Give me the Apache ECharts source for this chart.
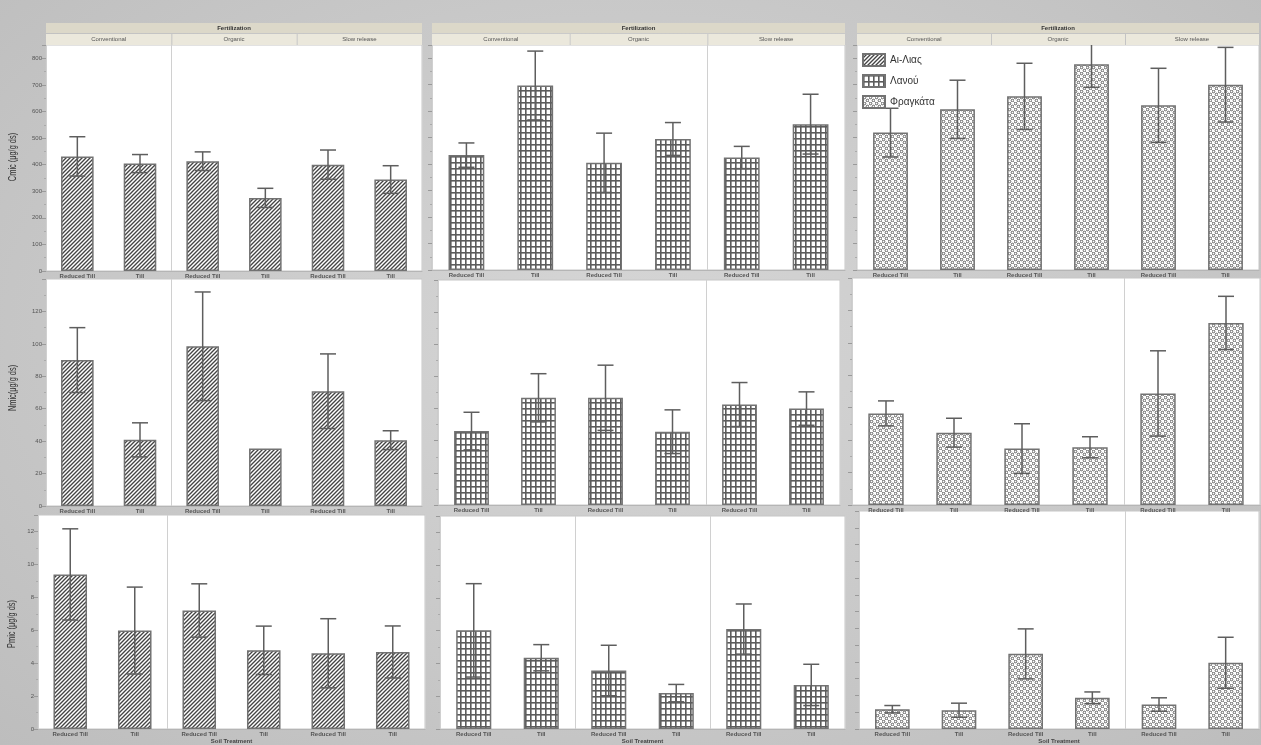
<!DOCTYPE html>
<html><head><meta charset="utf-8">
<script src="https://cdn.jsdelivr.net/npm/echarts@6/dist/echarts.min.js"></script>
<style>
html,body{margin:0;padding:0;width:1261px;height:745px;overflow:hidden;
background: radial-gradient(ellipse at 50% 45%, #d6d6d6 0%, #c9c9c9 55%, #bdbdbd 100%);}
#c{width:1261px;height:745px;}
</style></head><body><div id="c"></div>
<script>
// ---------- data ----------
const categories = ['Reduced Till','Till','Reduced Till','Till','Reduced Till','Till'];
const facets = ['Conventional','Organic','Slow release'];
const sites = ['Αι-Λιας','Λανού','Φραγκάτα'];
const yNames = ['Cmic (μg/g ds)','Nmic(μg/g ds)','Pmic (μg/g ds)'];
const headerTitle = 'Fertilization';
const xTitle = 'Soil Treatment';

const cmicAiLias     = [431, 404, 413, 275, 400, 344];
const cmicAiLiasErr  = [74, 34, 35, 36, 55, 52];
const cmicLanou      = [434, 697, 405, 495, 425, 551];
const cmicLanouErr   = [46, 130, 112, 62, 42, 113];
const cmicFragkata   = [519, 607, 656, 777, 622, 700];
const cmicFragkataErr= [92, 110, 125, 87, 140, 141];

const nmicAiLias     = [90.0, 40.8, 98.5, 35.4, 70.8, 40.6];
const nmicAiLiasErr  = [20.0, 10.5, 33.5, 0, 23.0, 5.8];
const nmicLanou      = [46.0, 66.7, 66.7, 45.6, 62.5, 60.0];
const nmicLanouErr   = [11.7, 15.0, 20.3, 13.6, 13.7, 10.4];
const nmicFragkata   = [56.5, 44.6, 34.8, 35.6, 68.8, 112.3];
const nmicFragkataErr= [7.7, 8.9, 15.3, 6.5, 26.3, 16.4];

const pmicAiLias     = [9.39, 5.98, 7.20, 4.78, 4.60, 4.68];
const pmicAiLiasErr  = [2.77, 2.64, 1.62, 1.47, 2.10, 1.58];
const pmicLanou      = [6.02, 4.35, 3.57, 2.19, 6.10, 2.69];
const pmicLanouErr   = [2.85, 0.80, 1.54, 0.53, 1.53, 1.26];
const pmicFragkata   = [1.18, 1.12, 4.48, 1.86, 1.46, 3.95];
const pmicFragkataErr= [0.22, 0.42, 1.49, 0.35, 0.40, 1.52];

// ---------- patterns ----------
function mk(w,h){const c=document.createElement('canvas');c.width=w;c.height=h;const g=c.getContext('2d');g.fillStyle='#fff';g.fillRect(0,0,w,h);return [c,g];}
function hatch(){const [c,g]=mk(4,4);g.strokeStyle='#444';g.lineWidth=1.35;g.beginPath();
  g.moveTo(-1,5);g.lineTo(5,-1);g.moveTo(-1,1);g.lineTo(1,-1);g.moveTo(3,5);g.lineTo(5,3);g.stroke();return c;}
function gridPat(){const [c,g]=mk(5,6);g.fillStyle='#5c5c5c';g.fillRect(0,0,1.6,6);g.fillRect(0,0,5,1.6);return c;}
function circles(){const [c,g]=mk(6,6);g.strokeStyle='#505050';g.lineWidth=0.9;
  g.beginPath();g.arc(1.5,1.5,1.3,0,Math.PI*2);g.stroke();
  g.beginPath();g.arc(4.5,4.5,1.3,0,Math.PI*2);g.stroke();return c;}
const patterns = [hatch(), gridPat(), circles()];

// ---------- layout ----------
const FF = "'Liberation Sans', Arial, sans-serif";
const panels = [
  {l:46, t:45, w:376, h:226, row:0, site:0, v:cmicAiLias, e:cmicAiLiasErr, sep:[0,2], labels:true},
  {l:432,t:45, w:413, h:225, row:0, site:1, v:cmicLanou, e:cmicLanouErr, sep:[0,4]},
  {l:857,t:45, w:402, h:225, row:0, site:2, v:cmicFragkata, e:cmicFragkataErr, sep:[]},
  {l:46, t:279,w:376, h:227, row:1, site:0, v:nmicAiLias, e:nmicAiLiasErr, sep:[0,2], labels:true},
  {l:438,t:280,w:402, h:225, row:1, site:1, v:nmicLanou, e:nmicLanouErr, sep:[0,4]},
  {l:852,t:278,w:408, h:227, row:1, site:2, v:nmicFragkata, e:nmicFragkataErr, sep:[0,4]},
  {l:38, t:515,w:387, h:217, row:2, site:0, v:pmicAiLias, e:pmicAiLiasErr, sep:[0,2], labels:true},
  {l:440,t:516,w:405, h:215, row:2, site:1, v:pmicLanou, e:pmicLanouErr, sep:[0,2,4]},
  {l:859,t:511,w:400, h:220, row:2, site:2, v:pmicFragkata, e:pmicFragkataErr, sep:[0,4], pint:1}
];
const rowAxis = [
  {max:850, interval:100, nx:13, ny:157},
  {max:140, interval:20, nx:13.5, ny:388},
  {max:13, interval:2, nx:12, ny:624}
];

const grid=[], xAxis=[], yAxis=[], series=[], graphic=[];
panels.forEach((p,k)=>{
  grid.push({left:p.l, top:p.t, width:p.w, height:p.h, show:true, backgroundColor:'#ffffff', borderColor:'#c6c6c6', borderWidth:1, containLabel:false});
  const ra = rowAxis[p.row];
  const sepSet = p.sep;
  xAxis.push({type:'category', gridIndex:k, data:categories, boundaryGap:true,
    axisLine:{show:true, lineStyle:{color:'#b5b5b5', width:1}},
    axisTick:{show:false},
    axisLabel:{show:true, interval:0, fontSize:6, fontWeight:'bold', color:'#555', margin:2, fontFamily:FF},
    splitLine:{show:sepSet.length>0, interval:(i)=>sepSet.indexOf(i)>=0, lineStyle:{color:'#d0d0d0', width:1}},
    name: p.row===2 ? xTitle : '', nameLocation:'middle', nameGap:9,
    nameTextStyle:{fontSize:6, fontWeight:'bold', color:'#444', fontFamily:FF}
  });
  const interval = p.pint || ra.interval;
  yAxis.push({type:'value', gridIndex:k, min:0, max:ra.max, interval:interval,
    axisLine:{show:false},
    axisTick:{show:true, length:4, lineStyle:{color:'#9a9a9a'}},
    minorTick:{show:!p.pint, splitNumber:2, length:2, lineStyle:{color:'#aaa'}},
    axisLabel:{show:!!p.labels, fontSize:6, color:'#555', margin:4, showMaxLabel:false, fontFamily:FF},
    splitLine:{show:false}
  });
  series.push({type:'bar', name:sites[p.site], xAxisIndex:k, yAxisIndex:k, data:p.v, barWidth:'52%',
    itemStyle:{color:{image:patterns[p.site], repeat:'repeat'}, borderColor:'#727272', borderWidth:1.5},
    emphasis:{disabled:true}, z:2});
  series.push({type:'custom', name:'err'+k, xAxisIndex:k, yAxisIndex:k, clip:true, z:3,
    data:p.v.map((v,i)=>[i, v-p.e[i], v+p.e[i]]),
    encode:{x:0, y:[1,2]},
    renderItem:function(params, api){
      const i=api.value(0), lo=api.value(1), hi=api.value(2);
      if (hi-lo <= 0) return;
      const a=api.coord([i,hi]), b=api.coord([i,lo]); const w=8;
      const st={stroke:'#5e5e5e', lineWidth:1.5};
      return {type:'group', children:[
        {type:'line', shape:{x1:a[0],y1:a[1],x2:b[0],y2:b[1]}, style:st},
        {type:'line', shape:{x1:a[0]-w,y1:a[1],x2:a[0]+w,y2:a[1]}, style:st},
        {type:'line', shape:{x1:b[0]-w,y1:b[1],x2:b[0]+w,y2:b[1]}, style:st}]};
    }});
  if (p.labels){
    graphic.push({type:'text', x:ra.nx, y:ra.ny, rotation:Math.PI/2, scaleX:0.74, scaleY:1,
      style:{text:yNames[p.row], textAlign:'center', textVerticalAlign:'middle', font:'10px '+FF, fill:'#333'}, silent:true});
  }
  if (p.row===0){
    graphic.push({type:'rect', shape:{x:p.l, y:23, width:p.w, height:10}, style:{fill:'#dcd8c9'}, silent:true});
    graphic.push({type:'text', x:p.l+p.w/2, y:28, style:{text:headerTitle, textAlign:'center', textVerticalAlign:'middle', font:'bold 6px '+FF, fill:'#333'}, silent:true});
    facets.forEach((f,j)=>{
      const fw=p.w/3;
      graphic.push({type:'rect', shape:{x:p.l+j*fw+(j?1:0), y:34, width:fw-(j?1:0), height:11}, style:{fill:'#ebe8dc'}, silent:true});
      graphic.push({type:'text', x:p.l+j*fw+fw/2, y:39.5, style:{text:f, textAlign:'center', textVerticalAlign:'middle', font:'6px '+FF, fill:'#555'}, silent:true});
    });
  }
});

const chart = echarts.init(document.getElementById('c'), null, {renderer:'canvas'});
chart.setOption({
  backgroundColor:'transparent',
  animation:false,
  grid, xAxis, yAxis, series, graphic,
  legend:{data:sites, orient:'vertical', left:862, top:53, padding:0, itemWidth:22, itemHeight:12, itemGap:7,
    icon:'rect', textStyle:{fontSize:10, color:'#333', fontFamily:FF}, selectedMode:false}
});
</script></body></html>
